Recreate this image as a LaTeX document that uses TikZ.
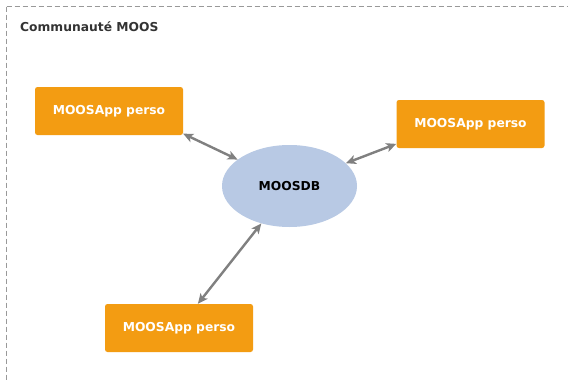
\documentclass[tikz,border=0pt]{standalone}
\usepackage{fontspec}
\setmainfont{DejaVu Sans}
\usetikzlibrary{arrows.meta,shapes.geometric}
\definecolor{apporange}{HTML}{F39C12}
\definecolor{dbblue}{HTML}{B8C9E4}
\definecolor{arrowgray}{HTML}{808080}
\definecolor{bordergray}{HTML}{999999}
\definecolor{titlegray}{HTML}{333333}
\tikzset{
  appbox/.style={rectangle, rounded corners=2.5pt, fill=apporange, draw=none,
    minimum width=148pt, minimum height=48pt, inner sep=0pt,
    text=white, font=\fontsize{12.3}{14}\selectfont\bfseries},
  dbnode/.style={ellipse, fill=dbblue, draw=none, minimum width=135pt,
    minimum height=82pt, inner sep=0pt, text=black,
    font=\fontsize{12.3}{14}\selectfont\bfseries},
  link/.style={draw=arrowgray, line width=2.4pt,
    {Stealth[length=10pt,width=9pt,inset=2.5pt]}-{Stealth[length=10pt,width=9pt,inset=2.5pt]}},
  frame/.style={draw=bordergray, line width=0.9pt, dash pattern=on 5pt off 3pt}
}
\begin{document}
\begin{tikzpicture}[x=1pt,y=-1pt]
\useasboundingbox (0,0) rectangle (568,380);
\fill[white] (0,0) rectangle (568,380);
\draw[frame] (6.5,6.5) -- (580,6.5);
\draw[frame] (6.5,6.5) -- (6.5,390);
\node[anchor=base west, text=titlegray, font=\fontsize{12.3}{14}\selectfont\bfseries, inner sep=0pt] (title) at (20,31.5) {Communauté MOOS};
\node[appbox] (b1) at (109,111) {MOOSApp perso};
\node[appbox] (b2) at (470.5,124) {MOOSApp perso};
\node[appbox] (b3) at (179,328) {MOOSApp perso};
\node[dbnode] (db) at (289.5,186) {MOOSDB};
\draw[link] (b1.-17) -- (db.153);
\draw[link] (db.22) -- (b2.195);
\draw[link] (db.233) -- (b3.52);
\end{tikzpicture}
\end{document}
